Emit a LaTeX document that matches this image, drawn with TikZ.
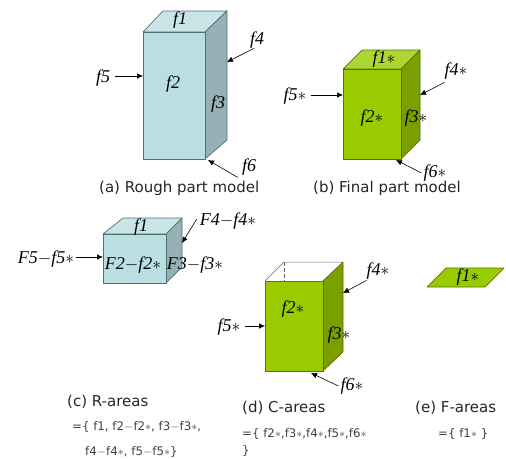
\documentclass[tikz,border=0pt]{standalone}
\usepackage{fontspec}
\setmainfont{DejaVu Sans}
\newfontfamily\lblfont{Liberation Serif}
\usetikzlibrary{arrows.meta}
\definecolor{roughF}{HTML}{B9DFE3}
\definecolor{roughT}{HTML}{C9E5E8}
\definecolor{roughS}{HTML}{95B1B5}
\definecolor{finalF}{HTML}{99CC00}
\definecolor{finalT}{HTML}{ADD633}
\definecolor{finalS}{HTML}{7A9F00}
\definecolor{edgeR}{HTML}{4F6F70}
\definecolor{edgeG}{HTML}{5A7000}
\newcommand{\st}{$\ast$}
\newcommand{\mn}{$-$}
\tikzset{
  x=1pt,y=-1pt,
  face/.style={line width=0.7pt,line join=round},
  rough/.style={face,draw=edgeR},
  final/.style={face,draw=edgeG},
  lbl/.style={font=\lblfont\itshape\fontsize{18}{18}\selectfont,inner sep=0pt,text=black},
  captxt/.style={font=\fontsize{15}{16}\selectfont,inner sep=0pt,anchor=west,text=black!85},
  setx/.style={font=\fontsize{11.8}{12}\selectfont,inner sep=0pt,anchor=west,text=black!75},
  arr/.style={-{Latex[length=6pt,width=5.5pt]},line width=0.6pt,black},
}
\begin{document}
\begin{tikzpicture}
\useasboundingbox (0,0) rectangle (506,458);
% (a) rough model
\fill[roughT,rough] (143,32) -- (163,11) -- (227,11) -- (205,32) -- cycle;
\fill[roughS,rough] (205,32) -- (227,11) -- (227,140) -- (205,159) -- cycle;
\fill[roughF,rough] (143,32) rectangle (205,159);
\node[lbl] (a1) at (180,20) {f1};
\node[lbl] (a2) at (173,84) {f2};
\node[lbl] (a3) at (218,104) {f3};
\node[lbl] (a4) at (257,40) {f4};
\node[lbl] (a5) at (103,78) {f5};
\node[lbl] (a6) at (249,167) {f6};
\coordinate (a4t) at (227,62);
\coordinate (a5t) at (143,76);
\coordinate (a6t) at (208,160);
\draw[arr] ([xshift=4pt]a4.south west) -- (a4t);
\draw[arr] ([xshift=5pt]a5.east |- a5t) -- (a5t);
\draw[arr] ([xshift=-4pt,yshift=-2pt]a6.south west) -- (a6t);
\node[captxt] (capa) at (99,188) {(a) Rough part model};
% (b) final model
\fill[finalT,final] (343,69) -- (362,50) -- (420,50) -- (401,69) -- cycle;
\fill[finalS,final] (401,69) -- (420,50) -- (420,140) -- (401,159) -- cycle;
\fill[finalF,final] (343,69) rectangle (401,159);
\node[lbl] (b1) at (384,59) {f1\st};
\node[lbl] (b2) at (372,118) {f2\st};
\node[lbl] (b3) at (416,118) {f3\st};
\node[lbl] (b4) at (456,71) {f4\st};
\node[lbl] (b5) at (295,96) {f5\st};
\node[lbl] (b6) at (435,173) {f6\st};
\coordinate (b4t) at (420,95);
\coordinate (b5t) at (343,95);
\coordinate (b6t) at (396,160);
\draw[arr] ([yshift=-3pt]b4.south west) -- (b4t);
\draw[arr] ([xshift=4pt]b5.east |- b5t) -- (b5t);
\draw[arr] ([xshift=-2pt]b6.west) -- (b6t);
\node[captxt] (capb) at (313,188) {(b) Final part model};
% (c) R-areas
\fill[roughT,rough] (103,234) -- (123,218) -- (182,218) -- (166,234) -- cycle;
\fill[roughS,rough] (166,234) -- (182,218) -- (182,267) -- (166,283) -- cycle;
\fill[roughF,rough] (103,234) rectangle (166,283);
\node[lbl] (c1) at (141,227) {f1};
\node[lbl] (c2) at (133,265) {F2\mn f2\st};
\node[lbl] (c3) at (195,265) {F3\mn f3\st};
\node[lbl] (c4) at (228,221) {F4\mn f4\st};
\node[lbl] (c5) at (46,259) {F5\mn f5\st};
\coordinate (c4t) at (182,243);
\coordinate (c5t) at (103,257);
\draw[arr] ([xshift=-3pt,yshift=2pt]c4.west) -- (c4t);
\draw[arr] ([xshift=2pt]c5.east |- c5t) -- (c5t);
\node[captxt] (capc) at (67,402) {(c) R-areas};
\node[setx] (setc1) at (72,427) {=\{ f1, f2\mn f2\st, f3\mn f3\st,};
\node[setx] (setc2) at (85,452) {f4\mn f4\st, f5\mn f5\st\}};
% (d) C-areas
\draw[line width=0.5pt,black!60] (265,281) -- (284,262) -- (343,262);
\draw[line width=0.5pt,black!60,dash pattern=on 4pt off 2pt] (284,262) -- (284,281);
\fill[finalS,final] (323,281) -- (343,262) -- (343,352) -- (323,371) -- cycle;
\fill[finalF,final] (265,281) rectangle (323,371);
\draw[line width=0.5pt,black!60] (265,281) -- (323,281);
\node[lbl] (d2) at (293,309) {f2\st};
\node[lbl] (d3) at (339,335) {f3\st};
\node[lbl] (d4) at (378,271) {f4\st};
\node[lbl] (d5) at (229,327) {f5\st};
\node[lbl] (d6) at (352,386) {f6\st};
\coordinate (d4t) at (343,293);
\coordinate (d5t) at (265,326);
\coordinate (d6t) at (311,373);
\draw[arr] ([yshift=-1pt]d4.south west) -- (d4t);
\draw[arr] ([xshift=4pt]d5.east |- d5t) -- (d5t);
\draw[arr] ([xshift=-2pt]d6.west) -- (d6t);
\node[captxt] (capd) at (242,408) {(d) C-areas};
\node[setx] (setd1) at (242,434) {=\{ f2\st,f3\st,f4\st,f5\st,f6\st};
\node[setx] (setd2) at (242,451) {\}};
% (e) F-areas
\fill[finalF,final] (427,287) -- (485,287) -- (504,268) -- (446,268) -- cycle;
\node[lbl] (e1) at (468,277) {f1\st};
\node[captxt] (cape) at (415,408) {(e) F-areas};
\node[setx] (sete) at (438,434) {=\{ f1\st\ \}};
\end{tikzpicture}
\end{document}
